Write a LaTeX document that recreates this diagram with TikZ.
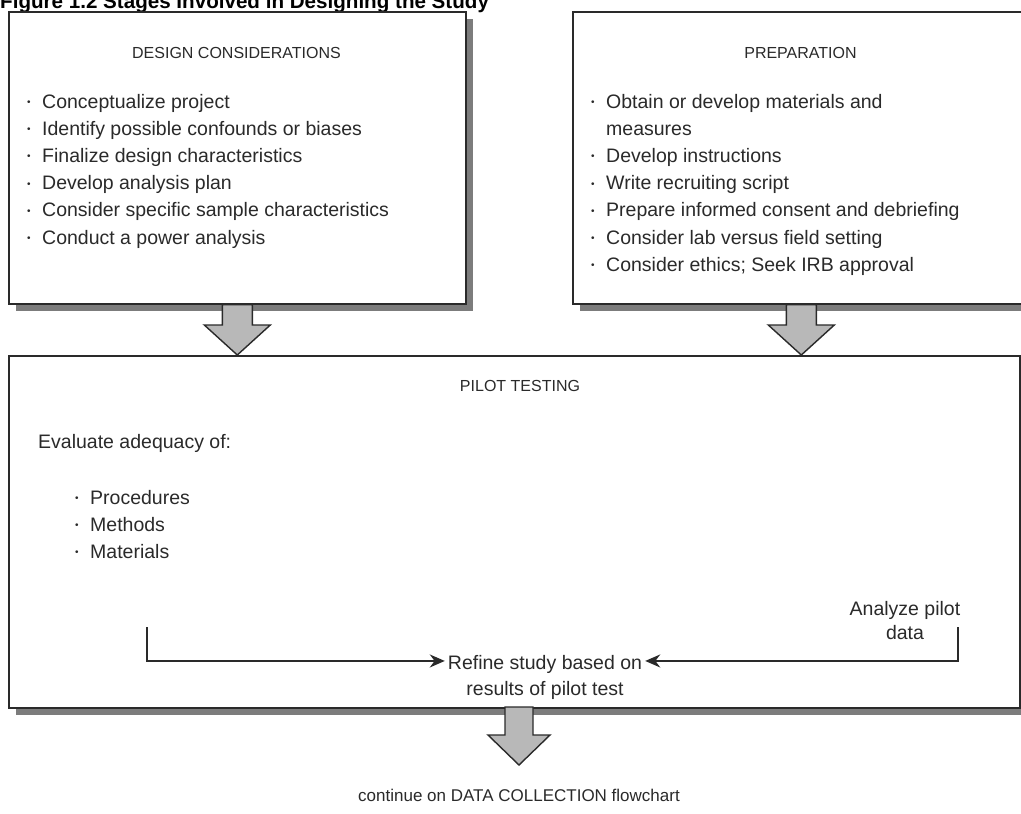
\documentclass[tikz,border=0pt]{standalone}
\usepackage{fontspec}
\setmainfont{Liberation Sans}
\usetikzlibrary{shadows,calc,arrows.meta}
\definecolor{ink}{HTML}{2A2A2A}
\definecolor{shade}{HTML}{7C7C7C}
\definecolor{arrowfill}{HTML}{B8B8B8}
\newcommand\blt{\makebox[15pt][l]{\raisebox{0.25ex}{\fontsize{10}{10}\selectfont •}}}
\begin{document}
\begin{tikzpicture}[x=1pt,y=-1pt,
  box/.style={draw=ink, line width=1.6pt, fill=white, inner sep=0pt, anchor=north west,
    drop shadow={shadow xshift=7pt, shadow yshift=-7pt, fill=shade, opacity=1}},
  txt/.style={font=\fontsize{19.5}{22}\selectfont, text=ink, inner sep=0pt, anchor=base west},
  ctxt/.style={txt, anchor=base},
  head/.style={font=\fontsize{16}{18}\selectfont, text=ink, inner sep=0pt, anchor=base},
  fat/.style={draw=ink, line width=1.4pt, fill=arrowfill, line join=miter},
  conn/.style={draw=ink, line width=1.8pt, -{Stealth[length=15pt,width=13pt]}}
]
\useasboundingbox (0,0) rectangle (1021,814);
\fill[white] (0,0) rectangle (1021,814);

\node[font=\bfseries\fontsize{20.6}{24}\selectfont, inner sep=0pt, anchor=base west] (title) at (0,8) {Figure 1.2 Stages Involved in Designing the Study};

% boxes
\node[box, minimum width=457pt, minimum height=292pt] (design) at (8,11) {};
\node[box, minimum width=457pt, minimum height=292pt] (prep) at (572,11) {};
\node[box, minimum width=1011pt, minimum height=352pt] (pilot) at (8,355) {};

% design considerations
\node[head] (dhead) at (236.5,58) {DESIGN CONSIDERATIONS};
\foreach \t [count=\i] in {Conceptualize project, Identify possible confounds or biases, Finalize design characteristics, Develop analysis plan, Consider specific sample characteristics, Conduct a power analysis}
  \node[txt] (d\i) at (27,{108+27.2*(\i-1)}) {\blt\t};

% preparation
\node[head] (phead) at (800.5,58) {PREPARATION};
\node[txt] (p1) at (591,108) {\blt Obtain or develop materials and};
\node[txt] (p1b) at (591,135.2) {\hspace{15pt}measures};
\foreach \t [count=\i from 2] in {Develop instructions, Write recruiting script, Prepare informed consent and debriefing, Consider lab versus field setting, Consider ethics; Seek IRB approval}
  \node[txt] (p\i) at (591,{108+27.2*\i}) {\blt\t};

% pilot testing
\node[head] (pihead) at (520,391) {PILOT TESTING};
\node[txt] (eval) at (38,448) {Evaluate adequacy of:};
\foreach \t [count=\i] in {Procedures, Methods, Materials}
  \node[txt] (e\i) at (75,{504+27.2*(\i-1)}) {\blt\t};
\node[ctxt] (an1) at (905,615) {Analyze pilot};
\node[ctxt] (an2) at (905,639) {data};
\node[ctxt] (ref1) at (545,669) {Refine study based on};
\node[ctxt] (ref2) at (545,695) {results of pilot test};

\coordinate (lstart) at (147,627);
\coordinate (rstart) at (958,627);
\draw[conn] (lstart) |- ([xshift=-3pt,yshift=3pt]ref1.west);
\draw[conn] (rstart) |- ([xshift=3pt,yshift=3pt]ref1.east);

% bottom text
\node[head, font=\fontsize{17}{20}\selectfont] (cont) at (519,801) {continue on DATA COLLECTION flowchart};

% fat arrows
\filldraw[fat] ([xshift=-15pt]design.south) |- ([xshift=-33pt,yshift=30pt]design.south |- pilot.north)
  -- (design.south |- pilot.north) -- ([xshift=33pt,yshift=30pt]design.south |- pilot.north)
  -| ([xshift=15pt]design.south) -- cycle;
\filldraw[fat] ([xshift=-15pt]prep.south) |- ([xshift=-33pt,yshift=30pt]prep.south |- pilot.north)
  -- (prep.south |- pilot.north) -- ([xshift=33pt,yshift=30pt]prep.south |- pilot.north)
  -| ([xshift=15pt]prep.south) -- cycle;
\coordinate (bsrc) at (519,707);
\coordinate (btip) at (519,765);
\filldraw[fat] ([xshift=-14pt]bsrc) |- ([xshift=-31pt,yshift=30pt]btip)
  -- (btip) -- ([xshift=31pt,yshift=30pt]btip)
  -| ([xshift=14pt]bsrc) -- cycle;
\end{tikzpicture}
\end{document}
